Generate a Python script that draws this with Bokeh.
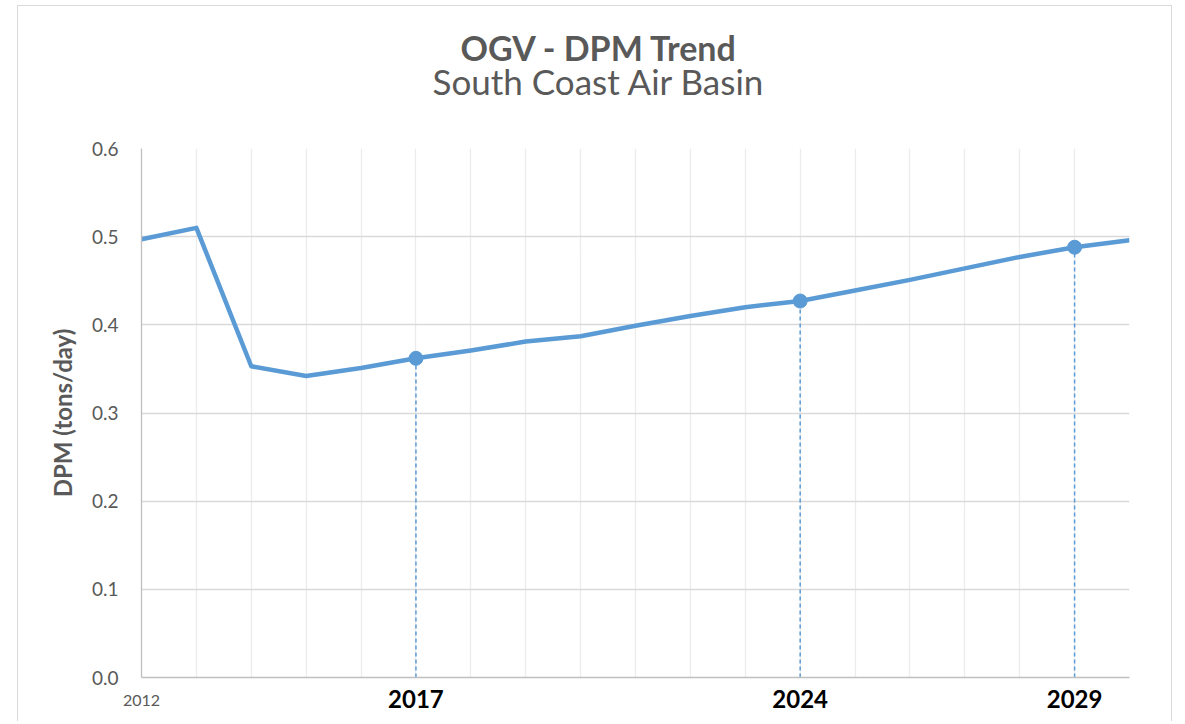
from bokeh.plotting import figure
from bokeh.models import FixedTicker, Title, Range1d, ColumnDataSource, LinearAxis, CustomJSTickFormatter
from bokeh.embed import file_html
from bokeh.resources import INLINE

# ---- data ----
years = list(range(2012, 2031))
dpm = [0.497, 0.510, 0.353, 0.342, 0.351, 0.362, 0.371, 0.381, 0.387, 0.399,
       0.410, 0.420, 0.427, 0.439, 0.451, 0.464, 0.477, 0.488, 0.496]
highlight_years = [2017, 2024, 2029]
first_year = [2012]
y_ticks = [0.0, 0.1, 0.2, 0.3, 0.4, 0.5, 0.6]
title_text = "OGV - DPM Trend"
subtitle_text = "South Coast Air Basin"
y_label = "DPM (tons/day)"

highlight_vals = [dpm[years.index(y)] for y in highlight_years]

BLUE = "#5b9bd5"
GREY_TXT = "#595959"
FONT = "Lato"

p = figure(width=1155, height=716, output_backend="svg", toolbar_location=None,
           x_range=Range1d(years[0], years[-1]), y_range=Range1d(0, 0.6),
           min_border_left=123, min_border_right=44, min_border_bottom=45,
           min_border_top=142)
p.margin = (5, 0, 0, 17)
p.styles = {"border-top": "1px solid #d9d9d9", "border-left": "1px solid #d9d9d9",
            "border-right": "1px solid #d9d9d9"}
p.outline_line_color = None
p.background_fill_color = "white"
p.border_fill_color = "white"

# titles (spacer panel keeps the two title lines tight like the original)
spacer = Title(text=" ", text_font_size="1px", standoff=44)
sub = Title(text=subtitle_text, align="left", offset=291, text_font=FONT,
            text_font_size="35px", text_font_style="normal", text_color=GREY_TXT,
            standoff=0)
main = Title(text=title_text, align="left", offset=319, text_font=FONT,
             text_font_size="34px", text_font_style="bold", text_color=GREY_TXT,
             standoff=-21)
p.add_layout(spacer, "above")
p.add_layout(sub, "above")
p.add_layout(main, "above")

# grids
p.xgrid.ticker = FixedTicker(ticks=years)
p.xgrid.grid_line_color = "#ececec"
p.xgrid.grid_line_width = 1.3
p.ygrid.ticker = FixedTicker(ticks=y_ticks)
p.ygrid.grid_line_color = "#d9d9d9"
p.ygrid.grid_line_width = 1.3

# y axis
p.yaxis.ticker = FixedTicker(ticks=y_ticks)
p.yaxis.formatter = CustomJSTickFormatter(code="return tick.toFixed(1);")
p.yaxis.axis_label = y_label
p.yaxis.axis_label_text_font = FONT
p.yaxis.axis_label_text_font_size = "24px"
p.yaxis.axis_label_text_font_style = "bold"
p.yaxis.axis_label_text_color = GREY_TXT
p.yaxis.axis_label_standoff = 12
p.yaxis.major_label_text_font = FONT
p.yaxis.major_label_text_font_size = "19px"
p.yaxis.major_label_text_color = GREY_TXT
p.yaxis.major_label_standoff = 17
p.yaxis.major_tick_line_color = None
p.yaxis.minor_tick_line_color = None
p.yaxis.axis_line_color = "#bfbfbf"
p.yaxis.axis_line_width = 1.3

# x axis (highlighted years, bold)
p.xaxis.ticker = FixedTicker(ticks=highlight_years)
p.xaxis.major_label_text_font = FONT
p.xaxis.major_label_text_font_size = "24px"
p.xaxis.major_label_text_font_style = "bold"
p.xaxis.major_label_text_color = "black"
p.xaxis.major_label_standoff = 6
p.xaxis.major_tick_line_color = None
p.xaxis.minor_tick_line_color = None
p.xaxis.axis_line_color = "#bfbfbf"
p.xaxis.axis_line_width = 1.3

# second x axis for the first year (small, regular)
ax2 = LinearAxis(ticker=FixedTicker(ticks=first_year),
                 major_label_text_font=FONT, major_label_text_font_size="16px",
                 major_label_text_color=GREY_TXT, major_label_standoff=-22,
                 major_tick_line_color=None, minor_tick_line_color=None,
                 axis_line_color=None)
p.add_layout(ax2, "below")

# drop lines
hs = ColumnDataSource(dict(x=highlight_years, y=highlight_vals, y0=[0] * len(highlight_years)))
p.segment(x0="x", y0="y0", x1="x", y1="y", source=hs, line_color=BLUE,
          line_width=1.5, line_dash="4 3")

# main line
p.line(years, dpm, line_color=BLUE, line_width=4.5, line_join="round")
p.scatter(x="x", y="y", source=hs, size=14, fill_color=BLUE, line_color=BLUE)

open("out.html", "w").write(file_html(p, INLINE))
